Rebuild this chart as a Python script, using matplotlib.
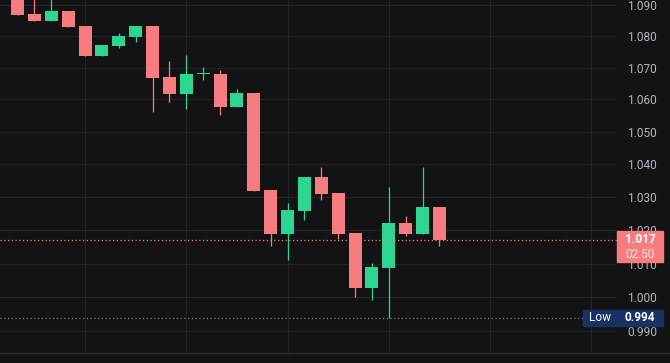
import matplotlib.pyplot as plt
import numpy as np
from matplotlib.patches import Rectangle
from matplotlib.lines import Line2D
from matplotlib.ticker import FixedLocator, FuncFormatter, NullLocator

# candle data
opens  = [1.0935, 1.0871, 1.0849, 1.0880, 1.0833, 1.0738, 1.0769, 1.0798, 1.0833, 1.0671,
          1.0618, 1.0680, 1.0680, 1.0578, 1.0621, 1.0321, 1.0188, 1.0259, 1.0361, 1.0312,
          1.0191, 1.0029, 1.0088, 1.0221, 1.0188, 1.0270]
highs  = [1.0950, 1.0930, 1.0930, 1.0880, 1.0833, 1.0772, 1.0810, 1.0833, 1.0833, 1.0721,
          1.0740, 1.0703, 1.0692, 1.0632, 1.0621, 1.0321, 1.0283, 1.0361, 1.0392, 1.0312,
          1.0191, 1.0103, 1.0331, 1.0243, 1.0391, 1.0270]
lows   = [1.0868, 1.0849, 1.0849, 1.0830, 1.0738, 1.0738, 1.0763, 1.0780, 1.0562, 1.0593,
          1.0570, 1.0661, 1.0552, 1.0578, 1.0319, 1.0153, 1.0111, 1.0231, 1.0291, 1.0173,
          1.0002, 0.9992, 0.9940, 1.0182, 1.0188, 1.0153]
closes = [1.0868, 1.0849, 1.0880, 1.0830, 1.0738, 1.0772, 1.0800, 1.0833, 1.0667, 1.0618,
          1.0680, 1.0681, 1.0577, 1.0621, 1.0319, 1.0188, 1.0261, 1.0361, 1.0309, 1.0188,
          1.0029, 1.0091, 1.0221, 1.0188, 1.0270, 1.0170]

price_ticks = [0.990, 1.000, 1.010, 1.020, 1.030, 1.040, 1.050, 1.060, 1.070, 1.080, 1.090]
last_price = 1.017
last_label = "1.017"
countdown = "02:50"
low_price = 0.994
low_label = "0.994"

bg = "#131315"
grid_c = "#232428"
up_c = "#2ed592"
down_c = "#f77c80"
text_c = "#b2b5be"

W, H = 670, 363
fig = plt.figure(figsize=(W / 100, H / 100), dpi=100, facecolor=bg)
ax = fig.add_axes([0, 10 / H, 617 / W, 353 / H], facecolor=bg)

ax.set_yscale("log")
ax.set_xlim(-1.037, 35.52)
ax.set_ylim(0.98375, 1.0915)

x = np.arange(len(opens))
o = np.array(opens); h = np.array(highs); l = np.array(lows); c = np.array(closes)
colors = np.where(c >= o, up_c, down_c)

ax.vlines(x, l, h, colors=colors, linewidth=0.9, zorder=3)
bottom = np.minimum(o, c)
height = np.maximum(np.abs(c - o), 0.0003)
ax.bar(x, height, bottom=bottom, width=0.77, color=colors, linewidth=0, zorder=4)

# grid
for p in price_ticks:
    ax.axhline(p, color=grid_c, linewidth=0.8, zorder=1)
for gx in range(4, 36, 6):
    ax.axvline(gx, color=grid_c, linewidth=0.8, zorder=1)

ax.axhline(last_price, color=down_c, linewidth=0.9, linestyle=(0, (1, 2)), zorder=5)
ax.plot([-1.037, 33.5], [low_price, low_price], color="#787b86", linewidth=0.9,
        linestyle=(0, (1, 2)), zorder=5)

ax.yaxis.tick_right()
ax.yaxis.set_major_locator(FixedLocator(price_ticks))
ax.yaxis.set_minor_locator(NullLocator())
ax.yaxis.set_major_formatter(FuncFormatter(lambda v, pos: f"{v:.3f}"))
ax.tick_params(axis="y", length=0, pad=7.5, labelsize=8.6, labelcolor=text_c)
for t in ax.get_yticklabels():
    t.set_fontfamily("Roboto")
ax.set_xticks([])
for s in ax.spines.values():
    s.set_visible(False)

fig.add_artist(Line2D([0, 1], [10 / H, 10 / H], color="#2a2b2f", linewidth=1))


def ypix(price):
    return ax.transData.transform((0, price))[1]


# last price box
yp = ypix(last_price)
fig.add_artist(Rectangle((617 / W, (yp - 22) / H), 46 / W, 31 / H, color=down_c, zorder=10))
fig.text(640 / W, (yp + 1) / H, last_label, color="white", fontsize=8.6, fontweight="bold",
         family="Roboto", ha="center", va="center", zorder=11)
fig.text(640 / W, (yp - 14) / H, countdown, color="#fde4e4", fontsize=8.6,
         family="Roboto", ha="center", va="center", zorder=11)

# low box
yl = ypix(low_price)
fig.add_artist(Rectangle((583 / W, (yl - 8) / H), 33.5 / W, 16 / H, color="#1a3166", zorder=10))
fig.add_artist(Rectangle((617 / W, (yl - 8) / H), 46 / W, 16 / H, color="#1a3166", zorder=10))
fig.text(600 / W, yl / H, "Low", color="white", fontsize=8.6, family="Roboto",
         ha="center", va="center", zorder=11)
fig.text(640 / W, yl / H, low_label, color="white", fontsize=8.6, fontweight="bold",
         family="Roboto", ha="center", va="center", zorder=11)

fig.savefig("out.png", dpi=100, facecolor=bg)
